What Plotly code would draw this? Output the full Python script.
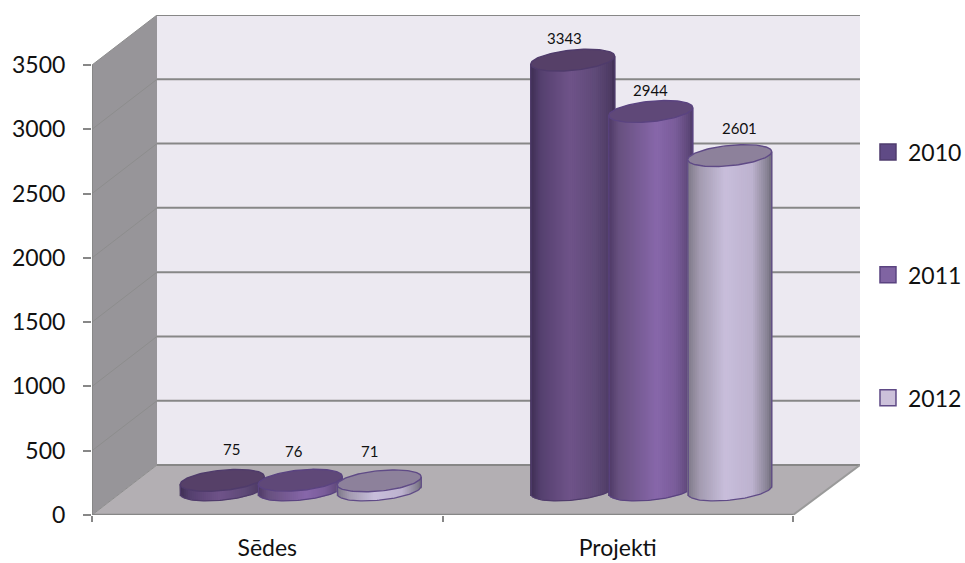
import numpy as np
import plotly.graph_objects as go

# ---- data ----
categories = ["Sēdes", "Projekti"]
years = ["2010", "2011", "2012"]
values_2010 = [75, 3343]
values_2011 = [76, 2944]
values_2012 = [71, 2601]
y_ticks = [0, 500, 1000, 1500, 2000, 2500, 3000, 3500]

# ---- oblique projection, in screen pixels converted to axis units ----
PLOT_L, PLOT_T, PLOT_B = 92, 15, 515
PLOT_R = 860
PX_PER_CAT = 350.5
PX_PER_UNIT = 450 / 3500
X0, X1 = -0.5, -0.5 + (PLOT_R - PLOT_L) / PX_PER_CAT
Y1 = (PLOT_B - PLOT_T) / PX_PER_UNIT
dx = lambda px: px / PX_PER_CAT
dy = lambda px: px / PX_PER_UNIT
DEPTH_X, DEPTH_Y = dx(65), dy(50)
END = len(categories) - 0.5

# ---- style ----
FONT = "Lato, Carlito, Calibri, sans-serif"
WALL, FLOOR, SIDE = "#ece9f1", "#b3afb3", "#979599"
GRID = "#878787"
body_stops = [
    [(-1.0, "#3d2d52"), (-0.75, "#55406f"), (-0.05, "#6f5389"), (0.55, "#5f4a78"), (0.92, "#4d3a63"), (1.0, "#3f2f55")],
    [(-1.0, "#4c3865"), (-0.75, "#67507f"), (0.15, "#8767aa"), (0.6, "#7a5d9a"), (0.92, "#5e4779"), (1.0, "#4f3b69")],
    [(-1.0, "#7c7686"), (-0.7, "#a39bb0"), (-0.1, "#c8bedb"), (0.55, "#bdb2cf"), (0.92, "#858091"), (1.0, "#6f6a7c")],
]
top_fill = ["#564068", "#5f4878", "#8d819b"]
edge_col = ["#4f3b6b", "#5a4380", "#5f4a86"]
legend_fill = ["#5f4a85", "#8064a2", "#ccc1da"]
legend_line = ["#4f3c6e", "#5a4380", "#5f4a86"]
label_shift = [[(9, 31), (-8, 22)], [(-6, 29), (0, 21)], [(-10, 30), (10, 28)]]

A_PX, B_PX, K_PX = 42, 10.2, 4
BAR_OFFSET = [-78, 0, 79]
STRIPS = 42


def hex2rgb(h):
    return np.array([int(h[i:i + 2], 16) for i in (1, 3, 5)], float)


def gradient(stops, u):
    xs = [s[0] for s in stops]
    cols = np.array([hex2rgb(s[1]) for s in stops])
    out = np.stack([np.interp(u, xs, cols[:, c]) for c in range(3)], axis=1)
    return ["rgb(%d,%d,%d)" % tuple(c) for c in out.round().astype(int)]


def poly(pts):
    return "M " + " L ".join(f"{x},{y}" for x, y in pts) + " Z"


shapes = []
def add_poly(pts, fill):
    shapes.append(dict(type="path", path=poly(pts), fillcolor=fill, line=dict(width=0),
                       xref="x", yref="y", layer="below"))


def add_line(x0, y0, x1, y1, width, color="#878787"):
    shapes.append(dict(type="line", x0=x0, y0=y0, x1=x1, y1=y1, xref="x", yref="y", layer="below",
                       line=dict(color=color, width=width)))


top_v = y_ticks[-1]
add_poly([(X0 + DEPTH_X, DEPTH_Y), (X1, DEPTH_Y), (X1, Y1), (X0 + DEPTH_X, Y1)], WALL)
add_poly([(X0, 0), (X0 + DEPTH_X, DEPTH_Y), (X0 + DEPTH_X, top_v + DEPTH_Y), (X0, top_v)], SIDE)
add_poly([(X0, 0), (X0 + DEPTH_X, DEPTH_Y), (X1, DEPTH_Y), (END, 0)], FLOOR)
for v in y_ticks:
    add_line(X0, v, X0 + DEPTH_X, v + DEPTH_Y, 1, "#8d8d8d")
    add_line(X0 + DEPTH_X, v + DEPTH_Y, X1, v + DEPTH_Y, 2, GRID)
add_line(END, 0, X1, DEPTH_Y, 2, "#9a9a9a")
add_line(X0, 0, END, 0, 2.5, GRID)
add_line(X0, 0, X0, top_v, 2, GRID)

fig = go.Figure()
series = [values_2010, values_2011, values_2012]
annotations = []
base_y = DEPTH_Y / 2
A, B, K = dx(A_PX), dy(B_PX), dy(K_PX)
theta = np.linspace(0, 2 * np.pi, 121)
z = 0
for c, _ in enumerate(categories):
    for s, vals in enumerate(series):
        z += 1
        v = vals[c]
        cx = c + dx(33) + dx(BAR_OFFSET[s])
        # overlapping strips: the strip pitch is below the strip width so no seams show
        u = (np.arange(STRIPS) + 0.5) / STRIPS * 2 - 1
        arc = np.sqrt(1 - u ** 2)
        fig.add_trace(go.Bar(
            x=cx + A * u, y=v + B * arc, base=base_y + K * u - B * arc,
            width=3.2 * A / STRIPS, marker=dict(color=gradient(body_stops[s], u), line=dict(width=0)),
            showlegend=False, hoverinfo="skip", zorder=z))
        # outline of the lower edge and the sides
        t = np.linspace(np.pi, 2 * np.pi, 61)
        ox = np.concatenate([[cx - A], cx + A * np.cos(t), [cx + A]])
        oy = np.concatenate([[base_y + v - K], base_y + K * np.cos(t) + B * np.sin(t), [base_y + v + K]])
        fig.add_trace(go.Scatter(x=ox, y=oy, mode="lines", line=dict(color=edge_col[s], width=1.2),
                                 showlegend=False, hoverinfo="skip", zorder=z))
        fig.add_trace(go.Scatter(
            x=cx + A * np.cos(theta), y=base_y + v + K * np.cos(theta) + B * np.sin(theta),
            mode="lines", fill="toself", fillcolor=top_fill[s],
            line=dict(color=edge_col[s], width=1.4), showlegend=False, hoverinfo="skip", zorder=z))
        sx, sy = label_shift[s][c]
        annotations.append(dict(x=cx, y=base_y + v, xref="x", yref="y", text=str(v), showarrow=False,
                                xshift=sx, yshift=sy, font=dict(family=FONT, size=15, color="#111111")))

for s, yr in enumerate(years):
    fig.add_trace(go.Scatter(
        x=[None], y=[None], mode="markers", name=yr, legendgroup=yr,
        marker=dict(symbol="square", size=16, color=legend_fill[s], line=dict(color=legend_line[s], width=1.5))))

fig.update_layout(
    width=965, height=563, autosize=False,
    margin=dict(l=PLOT_L, r=965 - PLOT_R, t=PLOT_T, b=563 - PLOT_B, pad=0, autoexpand=False),
    paper_bgcolor="white", plot_bgcolor="white",
    barmode="overlay", shapes=shapes, annotations=annotations,
    font=dict(family=FONT, size=23, color="#111111"),
    legend=dict(x=1.0104, xanchor="left", y=0.48, yanchor="middle", tracegroupgap=90,
                font=dict(family=FONT, size=23), bgcolor="rgba(0,0,0,0)"),
    xaxis=dict(range=[X0, X1], tickvals=list(range(len(categories))), ticktext=categories,
               ticks="outside", ticklen=0, showgrid=False, zeroline=False, showline=False,
               ticklabelstandoff=12,
               minor=dict(tickvals=[i - 0.5 for i in range(len(categories) + 1)], ticks="outside",
                          ticklen=6, tickwidth=1.5, tickcolor=GRID, showgrid=False)),
    yaxis=dict(range=[0, Y1], tickvals=y_ticks, ticks="outside", ticklen=8, tickwidth=1.5, tickcolor=GRID,
               showgrid=False, zeroline=False, showline=False, ticklabelstandoff=13),
)

fig.write_html("out.html", config=dict(displayModeBar=False), post_script="document.body.style.margin='0';")
